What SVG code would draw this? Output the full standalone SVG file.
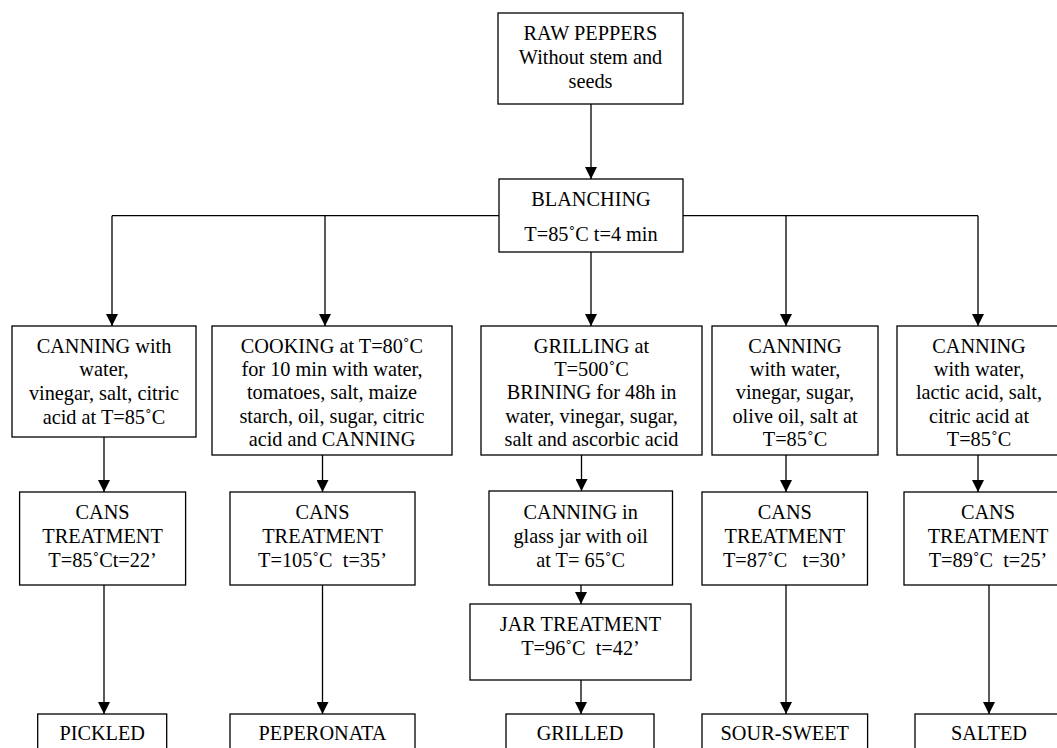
<svg xmlns="http://www.w3.org/2000/svg" width="1057" height="748" viewBox="0 0 1057 748" font-family="Liberation Serif, Times New Roman, serif" font-size="20.3">
<style>
.box{fill:#fff;stroke:#000;stroke-width:1.3}
.c{fill:none;stroke:#000;stroke-width:1.3}
</style>
<defs>
<marker id="ah" markerUnits="userSpaceOnUse" markerWidth="12" markerHeight="12" viewBox="0 0 12 12" refX="12" refY="6" orient="auto">
<path d="M0,0 L12,6 L0,12 Z" fill="#000"/>
</marker>
</defs>
<rect width="1057" height="748" fill="#fff"/>
<g id="connectors">
<path class="c" d="M591,104 V179" marker-end="url(#ah)"/>
<path class="c" d="M112,215.7 H499 M683,215.7 H978"/>
<path class="c" d="M112,215.7 V326" marker-end="url(#ah)"/>
<path class="c" d="M325,215.7 V326" marker-end="url(#ah)"/>
<path class="c" d="M591,252 V326" marker-end="url(#ah)"/>
<path class="c" d="M786,215.7 V326" marker-end="url(#ah)"/>
<path class="c" d="M978,215.7 V326" marker-end="url(#ah)"/>
<path class="c" d="M104,437 V492" marker-end="url(#ah)"/>
<path class="c" d="M322.5,455 V492" marker-end="url(#ah)"/>
<path class="c" d="M581.5,455 V491" marker-end="url(#ah)"/>
<path class="c" d="M786,455 V492" marker-end="url(#ah)"/>
<path class="c" d="M978,455 V492" marker-end="url(#ah)"/>
<path class="c" d="M104,585 V714" marker-end="url(#ah)"/>
<path class="c" d="M322.5,585 V714" marker-end="url(#ah)"/>
<path class="c" d="M581,585 V604" marker-end="url(#ah)"/>
<path class="c" d="M581,680 V714" marker-end="url(#ah)"/>
<path class="c" d="M786,585 V714" marker-end="url(#ah)"/>
<path class="c" d="M989,585 V714" marker-end="url(#ah)"/>
</g>
<g id="raw" text-anchor="middle">
<rect class="box" x="498" y="13" width="185" height="91"/>
<text x="590.5" y="40">RAW PEPPERS</text>
<text x="590.5" y="64">Without stem and</text>
<text x="590.5" y="88">seeds</text>
</g>
<g id="blanching" text-anchor="middle">
<rect class="box" x="499" y="179" width="184" height="73"/>
<text x="591" y="205.5">BLANCHING</text>
<text x="591" y="240.5">T=85˚C t=4 min</text>
</g>
<g id="canning1" text-anchor="middle">
<rect class="box" x="12" y="326" width="184" height="111"/>
<text x="104" y="352.7">CANNING with</text>
<text x="104" y="376.3">water,</text>
<text x="104" y="399.9">vinegar, salt, citric</text>
<text x="104" y="423.5">acid at T=85˚C</text>
</g>
<g id="cooking" text-anchor="middle">
<rect class="box" x="212" y="326" width="240" height="129"/>
<text x="332" y="352.7">COOKING at T=80˚C</text>
<text x="332" y="376">for 10 min with water,</text>
<text x="332" y="399.3">tomatoes, salt, maize</text>
<text x="332" y="422.7">starch, oil, sugar, citric</text>
<text x="332" y="446">acid and CANNING</text>
</g>
<g id="grilling" text-anchor="middle">
<rect class="box" x="481" y="326" width="221" height="129"/>
<text x="591.5" y="352.7">GRILLING at</text>
<text x="591.5" y="376">T=500˚C</text>
<text x="591.5" y="399.3">BRINING for 48h in</text>
<text x="591.5" y="422.7">water, vinegar, sugar,</text>
<text x="591.5" y="446">salt and ascorbic acid</text>
</g>
<g id="canning4" text-anchor="middle">
<rect class="box" x="712" y="326" width="166" height="129"/>
<text x="795" y="352.7">CANNING</text>
<text x="795" y="376">with water,</text>
<text x="795" y="399.3">vinegar, sugar,</text>
<text x="795" y="422.7">olive oil, salt at</text>
<text x="795" y="446">T=85˚C</text>
</g>
<g id="canning5" text-anchor="middle">
<rect class="box" x="897" y="326" width="166" height="129"/>
<text x="979" y="352.7">CANNING</text>
<text x="979" y="376">with water,</text>
<text x="979" y="399.3">lactic acid, salt,</text>
<text x="979" y="422.7">citric acid at</text>
<text x="979" y="446">T=85˚C</text>
</g>
<g id="cans1" text-anchor="middle">
<rect class="box" x="19.6" y="492" width="166" height="93"/>
<text x="102.6" y="519">CANS</text>
<text x="102.6" y="543">TREATMENT</text>
<text x="102.6" y="567">T=85˚Ct=22’</text>
</g>
<g id="cans2" text-anchor="middle">
<rect class="box" x="230" y="492" width="185" height="93"/>
<text x="322.5" y="519">CANS</text>
<text x="322.5" y="543">TREATMENT</text>
<text x="322.5" y="567" xml:space="preserve">T=105˚C  t=35’</text>
</g>
<g id="canning-jar" text-anchor="middle">
<rect class="box" x="489" y="491" width="183.5" height="94"/>
<text x="580.7" y="519">CANNING in</text>
<text x="580.7" y="543">glass jar with oil</text>
<text x="580.7" y="567">at T= 65˚C</text>
</g>
<g id="cans4" text-anchor="middle">
<rect class="box" x="702" y="492" width="165.5" height="93"/>
<text x="784.8" y="519">CANS</text>
<text x="784.8" y="543">TREATMENT</text>
<text x="784.8" y="567" xml:space="preserve">T=87˚C   t=30’</text>
</g>
<g id="cans5" text-anchor="middle">
<rect class="box" x="904" y="492" width="168" height="93"/>
<text x="988" y="519">CANS</text>
<text x="988" y="543">TREATMENT</text>
<text x="988" y="567" xml:space="preserve">T=89˚C  t=25’</text>
</g>
<g id="jar-treatment" text-anchor="middle">
<rect class="box" x="470" y="604" width="221" height="76"/>
<text x="580.5" y="631">JAR TREATMENT</text>
<text x="580.5" y="655" xml:space="preserve">T=96˚C  t=42’</text>
</g>
<g id="pickled" text-anchor="middle">
<rect class="box" x="37.7" y="714" width="129" height="50"/>
<text x="102.2" y="740">PICKLED</text>
</g>
<g id="peperonata" text-anchor="middle">
<rect class="box" x="230" y="714" width="185" height="50"/>
<text x="322.5" y="740">PEPERONATA</text>
</g>
<g id="grilled" text-anchor="middle">
<rect class="box" x="506" y="714" width="148" height="50"/>
<text x="580" y="740">GRILLED</text>
</g>
<g id="sour-sweet" text-anchor="middle">
<rect class="box" x="702" y="714" width="165.6" height="50"/>
<text x="784.8" y="740">SOUR-SWEET</text>
</g>
<g id="salted" text-anchor="middle">
<rect class="box" x="915" y="714" width="148" height="50"/>
<text x="989" y="740">SALTED</text>
</g>
</svg>
